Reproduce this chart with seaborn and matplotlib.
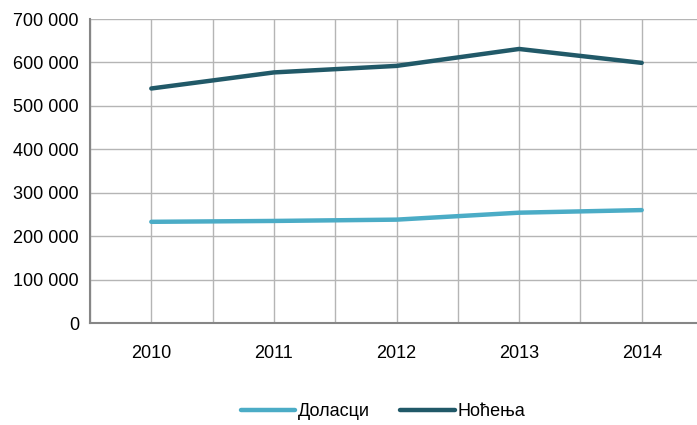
import matplotlib
matplotlib.use("Agg")
import matplotlib.pyplot as plt
import seaborn as sns
import pandas as pd
from matplotlib.ticker import FuncFormatter, MultipleLocator

years = ["2010", "2011", "2012", "2013", "2014"]
dolasci = [233000, 235000, 238000, 254000, 260000]
nocenja = [540000, 577000, 592000, 631000, 599000]
series_names = ["Доласци", "Ноћења"]
colors = ["#4bacc6", "#215968"]

sns.set_theme(style="white")
plt.rcParams['font.family'] = ['Liberation Sans', 'DejaVu Sans']
plt.rcParams['text.color'] = 'black'
plt.rcParams['xtick.labelcolor'] = 'black'
plt.rcParams['ytick.labelcolor'] = 'black'

df = pd.DataFrame({
    "x": list(range(len(years))) * 2,
    "value": dolasci + nocenja,
    "series": [series_names[0]] * len(years) + [series_names[1]] * len(years),
})

fig = plt.figure(figsize=(6.97, 4.25), dpi=100)
ax = fig.add_axes([90 / 697, 102 / 425, 613 / 697, 304 / 425])

sns.lineplot(data=df, x="x", y="value", hue="series", palette=colors,
             hue_order=series_names, linewidth=3.2, ax=ax, legend=True)

ax.set_xlim(-0.5, len(years) - 0.5)
ax.set_ylim(0, 700000)
ax.yaxis.set_major_locator(MultipleLocator(100000))
ax.yaxis.set_major_formatter(FuncFormatter(lambda v, p: f"{int(v):,}".replace(",", " ")))

ax.set_xticks(list(range(len(years))))
ax.set_xticklabels(years)
ax.set_xticks([i - 0.5 for i in range(len(years) + 1)], minor=True)
ax.grid(True, which="major", axis="both", color="#b5b5b5", linewidth=1)
ax.grid(True, which="minor", axis="x", color="#b5b5b5", linewidth=1)
ax.tick_params(axis="x", which="major", length=0, pad=16, labelsize=13, labelcolor="black")
ax.tick_params(axis="x", which="minor", length=5, width=1.5, color="#868686", direction="out")
ax.tick_params(axis="y", which="major", length=5, width=1.5, color="#868686", direction="out",
               labelsize=13, pad=3, labelcolor="black")
ax.set_xlabel("")
ax.set_ylabel("")
for s in ["top", "right"]:
    ax.spines[s].set_visible(False)
for s in ["left", "bottom"]:
    ax.spines[s].set_color("#868686")
    ax.spines[s].set_linewidth(1.5)

leg = ax.legend(loc="center", bbox_to_anchor=(383 / 697, 1 - 412 / 425), bbox_transform=fig.transFigure,
                ncol=2, frameon=False, fontsize=13, handlelength=3.0, handletextpad=0.15,
                columnspacing=1.7)
for line in leg.get_lines():
    line.set_linewidth(3.2)
for t in leg.get_texts():
    t.set_color("black")

fig.savefig("out.png", dpi=100)
